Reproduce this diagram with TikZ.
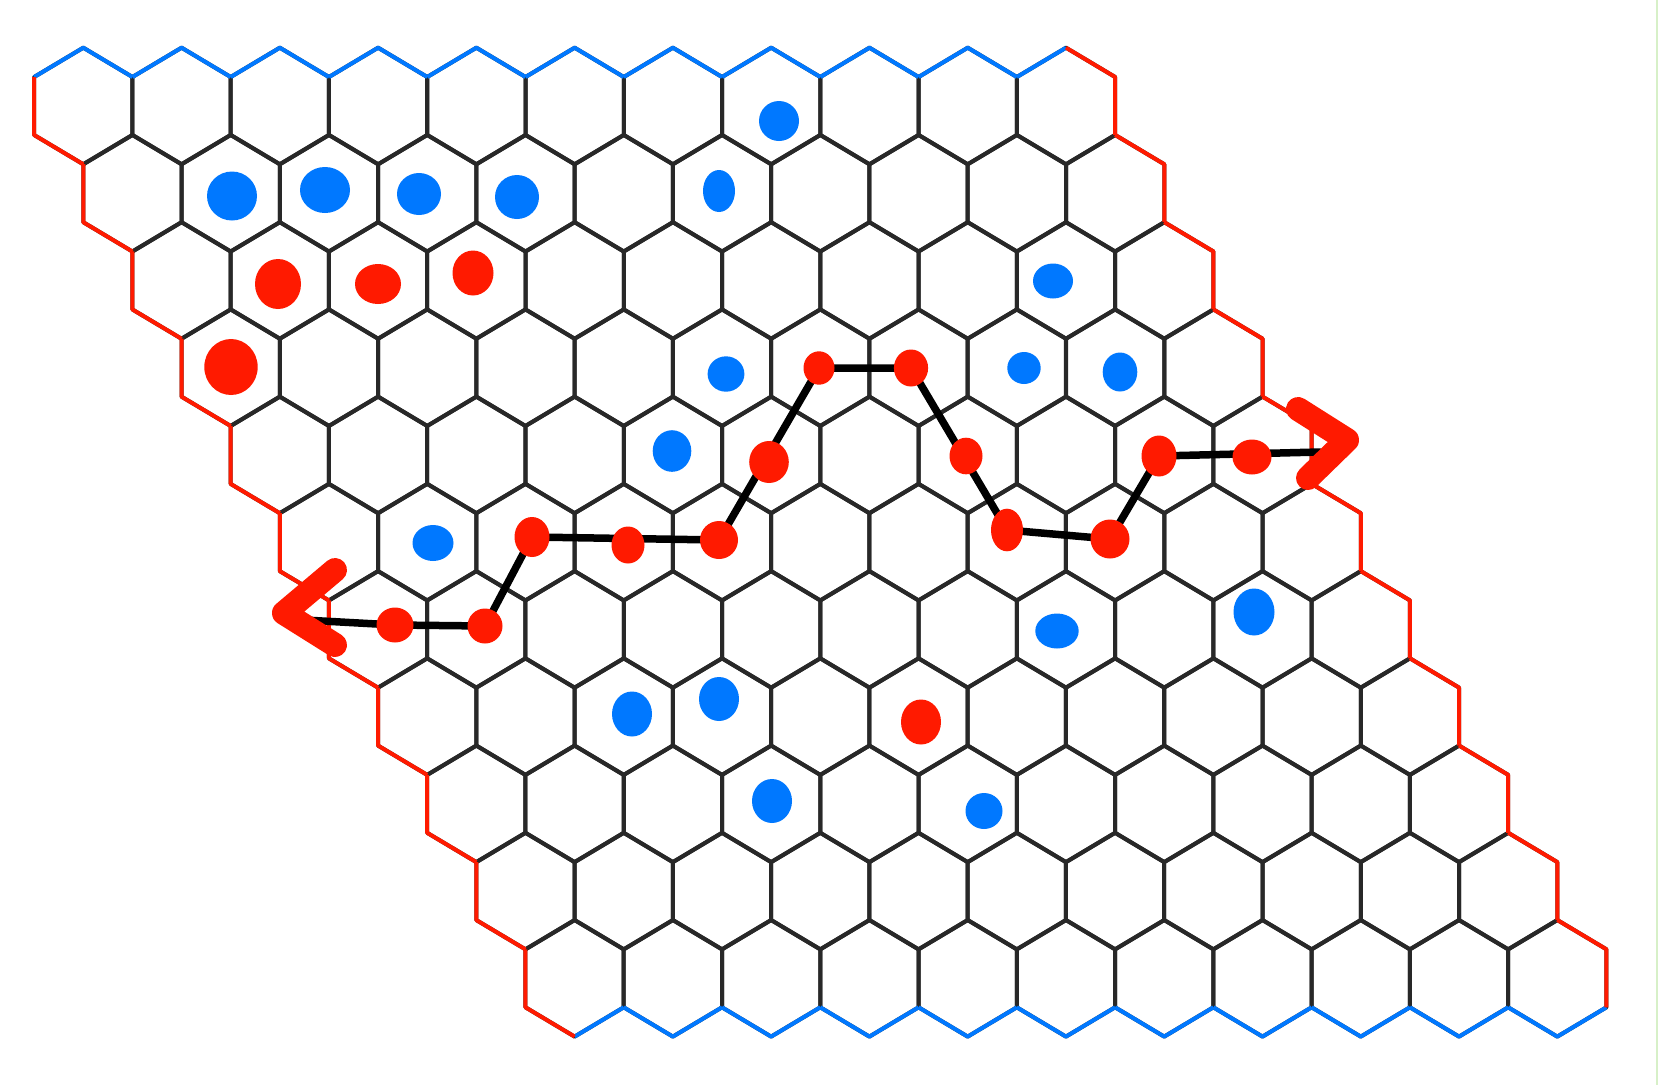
\documentclass[tikz,border=0pt]{standalone}
\usetikzlibrary{shapes.geometric}
\definecolor{hexblue}{RGB}{0,120,255}
\definecolor{hexred}{RGB}{255,26,0}
\definecolor{hexgrid}{RGB}{40,40,40}
\definecolor{framegreen}{RGB}{215,240,200}

\begin{document}
\begin{tikzpicture}[x=1pt, y=-1pt,
  cell/.style={draw=hexgrid, line width=4pt, line join=round},
  blueedge/.style={draw=hexblue, line width=4pt, line join=round},
  rededge/.style={draw=hexred, line width=4pt, line join=round},
  route/.style={draw=black, line width=7.5pt, line cap=round, line join=round},
  routedot/.style={ellipse, fill=hexred, inner sep=0pt},
  sidearrow/.style={draw=hexred, line width=24pt, line cap=round, line join=round}]
%
% ---- Frame ----
\fill[white] (0,0) rectangle (1658,1085);
\useasboundingbox (0,0) rectangle (1658,1085);
\draw[framegreen, line width=1.5pt] (1657,0) -- (1657,1085);
%
% ---- Board ----
\foreach \r in {0,...,10} {
  \foreach \c in {0,...,10} {
    \pgfmathsetmacro\hx{83.3+98.27*\c+49.13*\r}
    \pgfmathsetmacro\hy{106+87.23*\r}
    \draw[cell] (\hx,\hy) +(0,-58.3) -- +(49.13,-29) -- +(49.13,29)
      -- +(0,58.3) -- +(-49.13,29) -- +(-49.13,-29) -- cycle;
  }
}
%
% ---- Blue edges (top, bottom) ----
\foreach \c in {0,...,9} {
  \pgfmathsetmacro\hx{83.3+98.27*\c}
  \draw[blueedge] (\hx,106) +(-49.13,-29) -- +(0,-58.3) -- +(49.13,-29);
}
\draw[blueedge] (1066,106) +(-49.13,-29) -- +(0,-58.3);
\foreach \c in {1,...,10} {
  \pgfmathsetmacro\hx{574.6+98.27*\c}
  \draw[blueedge] (\hx,978.3) +(-49.13,29) -- +(0,58.3) -- +(49.13,29);
}
\draw[blueedge] (574.6,978.3) +(0,58.3) -- +(49.13,29);
%
% ---- Red edges (left, right) ----
\foreach \r in {0,...,10} {
  \pgfmathsetmacro\hy{106+87.23*\r}
  \pgfmathsetmacro\lx{83.3+49.13*\r}
  \pgfmathsetmacro\rx{1066+49.13*\r}
  \draw[rededge] (\lx,\hy) +(-49.13,-29) -- +(-49.13,29) -- +(0,58.3);
  \draw[rededge] (\rx,\hy) +(0,-58.3) -- +(49.13,-29) -- +(49.13,29);
}
%
% ---- Stones ----
\foreach \x/\y/\a/\b in {779/121/20/20, 232/196/25/24.5, 325/190/25/23,
  419/194/22/21, 517/197/22/22, 719/191/16/21, 1053/281/20/17.5,
  726/374/18.4/17.7, 1024/368/16.7/16, 1120/372/17.3/19.5,
  672/451/19.3/20.8, 433/543/20.5/18, 1057/631/21.7/17.5,
  1254/612/20.5/23.5, 632/714/20/22.5, 719/699/20/22, 772/801/20/22,
  984/811/18.5/18}
  \fill[hexblue] (\x,\y) ellipse [x radius=\a pt, y radius=\b pt];
\foreach \x/\y/\a/\b in {278/284/23/25, 378/284/23/20, 473/273/20.5/22.5,
  231/367/26.7/28, 921/722/20/22.5}
  \fill[hexred] (\x,\y) ellipse [x radius=\a pt, y radius=\b pt];
%
% ---- Winning route ----
\coordinate (p0) at (304,620);
\coordinate (p1) at (395,625);
\coordinate (p2) at (485,626);
\coordinate (p3) at (532,537);
\coordinate (p4) at (628,545);
\coordinate (p5) at (719,540);
\coordinate (p6) at (769,462);
\coordinate (p7) at (819,368);
\coordinate (p8) at (911,368);
\coordinate (p9) at (966,456);
\coordinate (p10) at (1007,530);
\coordinate (p11) at (1110,539);
\coordinate (p12) at (1159,456);
\coordinate (p13) at (1252,457);
\coordinate (p14) at (1320,452);
\draw[route] (p0) -- (p1) -- (p2) -- (p3) -- (p5) -- (p7) -- (p8)
  -- (p10) -- (p11) -- (p12) -- (p14);
\foreach \p/\w/\h in {1/37/35, 2/35/35, 3/35/40, 4/33/37, 5/38/38,
  6/39.6/42, 7/31/33.4, 8/34.2/37, 9/33/36.6, 10/32/42.6, 11/39/39,
  12/35/41, 13/39/35}
  \node[routedot, minimum width=\w pt, minimum height=\h pt] (d\p) at (p\p) {};
%
% ---- Side arrows ----
\coordinate (la) at (284,613);
\coordinate (lu) at (335,570);
\coordinate (ll) at (335,645);
\draw[sidearrow] (lu) -- (la) -- (ll);
\coordinate (ra) at (1347,440);
\coordinate (ru) at (1298,409);
\coordinate (rl) at (1308,478);
\draw[sidearrow] (ru) -- (ra) -- (rl);
\end{tikzpicture}
\end{document}
